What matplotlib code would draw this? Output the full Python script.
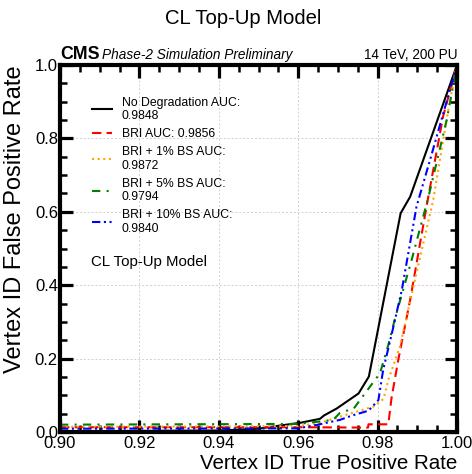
import numpy as np
import matplotlib
matplotlib.use('Agg')
import matplotlib.pyplot as plt
from matplotlib.ticker import MultipleLocator

plt.rcParams['font.family'] = ['Liberation Sans', 'DejaVu Sans']

# Curves (TPR on x, FPR on y)
tpr_nodeg = [0.90, 0.94, 0.95, 0.955, 0.9605, 0.9655, 0.9665, 0.9697, 0.9752, 0.9778, 0.9858, 0.9882, 1.0]
fpr_nodeg = [0.002, 0.004, 0.009, 0.017, 0.025, 0.036, 0.045, 0.064, 0.105, 0.151, 0.596, 0.641, 1.0]

tpr_bri = [0.90, 0.93, 0.96, 0.9776, 0.9777, 0.9827, 0.9835, 0.9852, 0.9882, 0.9924, 0.9965, 1.0]
fpr_bri = [0.013, 0.013, 0.013, 0.012, 0.021, 0.021, 0.092, 0.196, 0.36, 0.619, 0.86, 1.0]

tpr_bs1 = [0.90, 0.96, 0.9655, 0.970, 0.973, 0.9789, 0.9815, 0.9827, 0.9856, 0.9894, 0.994, 0.9978, 1.0]
fpr_bs1 = [0.014, 0.016, 0.025, 0.04, 0.05, 0.069, 0.09, 0.142, 0.232, 0.414, 0.632, 0.877, 1.0]

tpr_bs5 = [0.90, 0.96, 0.9688, 0.9705, 0.974, 0.9768, 0.9806, 0.9827, 0.9844, 0.9865, 0.9886, 0.9928, 0.9974, 1.0]
fpr_bs5 = [0.02, 0.022, 0.033, 0.052, 0.064, 0.105, 0.16, 0.237, 0.31, 0.39, 0.47, 0.64, 0.85, 1.0]

tpr_bs10 = [0.90, 0.96, 0.965, 0.9705, 0.9739, 0.9777, 0.9802, 0.9814, 0.9836, 0.9861, 0.9898, 0.9932, 0.9987, 1.0]
fpr_bs10 = [0.009, 0.010, 0.02, 0.033, 0.046, 0.058, 0.087, 0.169, 0.269, 0.387, 0.614, 0.741, 0.95, 1.0]

labels = ['No Degradation AUC:\n0.9848', 'BRI AUC: 0.9856', 'BRI + 1% BS AUC:\n0.9872',
          'BRI + 5% BS AUC:\n0.9794', 'BRI + 10% BS AUC:\n0.9840']

W, H = 472, 474
fig = plt.figure(figsize=(W / 100, H / 100), dpi=100)
ax = fig.add_axes([60 / W, 1 - 432 / H, 397 / W, 367 / H])

lw = 1.5
ax.plot(tpr_nodeg, fpr_nodeg, color='black', lw=lw, ls='-', label=labels[0])
ax.plot(tpr_bri, fpr_bri, color='red', lw=lw, ls=(0, (4.5, 2.5)), label=labels[1])
ax.plot(tpr_bs1, fpr_bs1, color='orange', lw=lw, ls=(0, (1, 1.7)), label=labels[2])
ax.plot(tpr_bs5, fpr_bs5, color='green', lw=lw, ls=(0, (4, 3, 1, 3)), label=labels[3])
ax.plot(tpr_bs10, fpr_bs10, color='blue', lw=lw, ls=(0, (4, 1.7, 1, 1.7, 1, 1.7)), label=labels[4])

ax.set_xlim(0.90, 1.00)
ax.set_ylim(0.0, 1.0)
ax.xaxis.set_major_locator(MultipleLocator(0.02))
ax.xaxis.set_minor_locator(MultipleLocator(0.005))
ax.yaxis.set_major_locator(MultipleLocator(0.2))
ax.yaxis.set_minor_locator(MultipleLocator(0.05))
ax.set_xticklabels([f'{v:.2f}' for v in ax.get_xticks()])
ax.set_yticklabels([f'{v:.1f}' for v in ax.get_yticks()])

ax.tick_params(which='both', direction='in', top=True, right=True, labelsize=12)
ax.tick_params(which='major', length=9, width=2.3)
ax.tick_params(axis='x', which='major', pad=3)
ax.tick_params(axis='y', which='major', pad=1.5)
ax.tick_params(which='minor', length=5, width=1.8)
for s in ax.spines.values():
    s.set_linewidth(3)

ax.grid(True, which='major', color='#d0d0d0', ls=(0, (2, 2)), lw=0.7)

ax.set_xlabel('Vertex ID True Positive Rate', fontsize=14.8, loc='right', labelpad=2)
ax.set_ylabel('Vertex ID False Positive Rate', fontsize=17, loc='top', labelpad=6)

leg = ax.legend(loc='upper left', bbox_to_anchor=(0.08, 0.914), frameon=False, fontsize=8.8,
                handlelength=1.65, handletextpad=0.8, labelspacing=0.51,
                borderpad=0, borderaxespad=0)
for t in leg.get_texts():
    t.set_linespacing(1.14)

ax.text(0.077, 0.464, 'CL Top-Up Model', transform=ax.transAxes, fontsize=10.8, va='center')

ax.text(0.0, 1.016, 'CMS', transform=ax.transAxes, fontsize=12.8, fontweight='bold', va='baseline')
ax.text(0.106, 1.016, 'Phase-2 Simulation Preliminary', transform=ax.transAxes, fontsize=9.8,
        style='italic', va='baseline')
ax.text(1.0, 1.016, '14 TeV, 200 PU', transform=ax.transAxes, fontsize=9.8, ha='right', va='baseline')

fig.text(243 / W, 1 - 19 / H, 'CL Top-Up Model', fontsize=14.6, ha='center', va='center')

fig.savefig('out.png', dpi=100)
